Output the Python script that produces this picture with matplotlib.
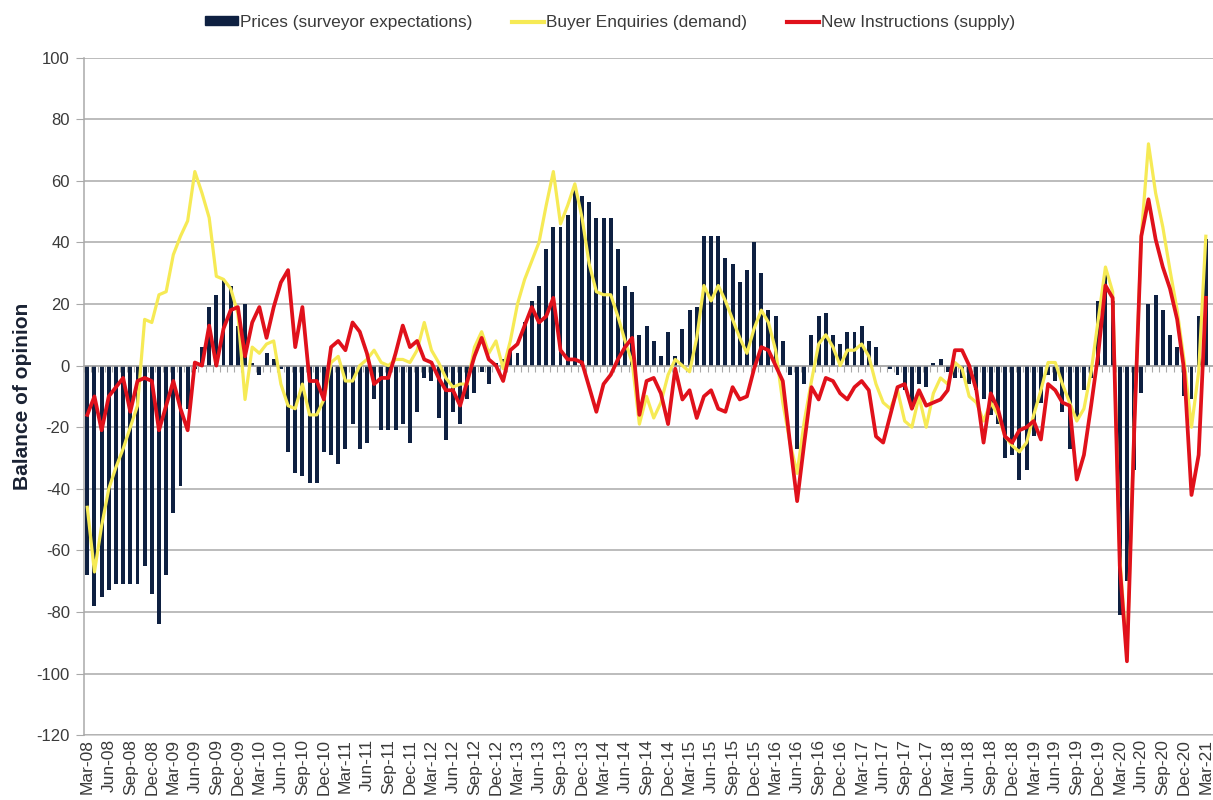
import numpy as np
import matplotlib
matplotlib.use("Agg")
import matplotlib.pyplot as plt
from matplotlib.patches import Patch
from matplotlib.lines import Line2D

plt.rcParams['font.family'] = ['Liberation Sans', 'DejaVu Sans']
plt.rcParams['axes.unicode_minus'] = False

# ---- data (monthly, Mar-08 .. Mar-21) ----
start_year, start_month = 2008, 3
n_months = 157
month_names = ["Jan", "Feb", "Mar", "Apr", "May", "Jun", "Jul", "Aug", "Sep", "Oct", "Nov", "Dec"]

prices = [
    -68, -78, -75, -73, -71, -71, -71, -71, -65, -74, -84, -68, -48, -39, -14, -1,
    6, 19, 23, 28, 26, 13, 20, 1, -3, 4, 2, -1, -28, -35, -36, -38,
    -38, -28, -29, -32, -27, -19, -27, -25, -11, -21, -21, -21, -19, -25, -15, -4,
    -5, -17, -24, -15, -19, -11, -9, -2, -6, 1, 2, 5, 4, 14, 21, 26,
    38, 45, 45, 49, 57, 55, 53, 48, 48, 48, 38, 26, 24, 10, 13, 8,
    3, 11, 3, 12, 18, 19, 42, 42, 42, 35, 33, 27, 31, 40, 30, 18,
    16, 8, -3, -27, -6, 10, 16, 17, 10, 7, 11, 11, 13, 8, 6, 0,
    -1, -3, -8, -14, -6, -7, 1, 2, -2, -4, -4, -6, -8, -11, -16, -19,
    -30, -29, -37, -34, -23, -12, -3, -5, -15, -27, -17, -8, -4, 21, 30, 21,
    -81, -70, -34, -9, 20, 23, 18, 10, 6, -10, -11, 16, 41,
]

buyer_enquiries = [
    -46, -67, -52, -40, -33, -27, -20, -13, 15, 14, 23, 24, 36, 42, 47, 63,
    56, 48, 29, 28, 25, 17, -11, 6, 4, 7, 8, -6, -13, -14, -6, -16,
    -16, -11, 1, 3, -5, -5, 0, 2, 5, 1, 0, 2, 2, 1, 5, 14,
    5, 1, -4, -7, -6, -6, 6, 11, 4, 8, -1, 8, 20, 28, 34, 40,
    52, 63, 46, 52, 59, 48, 33, 24, 23, 23, 16, 8, 1, -19, -10, -17,
    -12, -3, 2, 0, -2, 9, 26, 21, 26, 21, 15, 9, 4, 12, 18, 14,
    5, -12, -25, -35, -18, -5, 7, 10, 6, 0, 5, 5, 7, 3, -6, -12,
    -14, -8, -18, -20, -10, -20, -9, -4, -6, 1, -1, -10, -12, -18, -12, -16,
    -23, -26, -28, -25, -16, -8, 1, 1, -6, -12, -18, -14, -2, 15, 32, 24,
    -62, -94, -20, 42, 72, 56, 45, 31, 18, 1, -20, -2, 42,
]

new_instructions = [
    -16, -10, -21, -10, -7, -4, -15, -5, -4, -5, -21, -13, -5, -14, -21, 1,
    0, 13, 0, 12, 18, 19, 3, 14, 19, 9, 19, 27, 31, 6, 19, -5,
    -5, -11, 6, 8, 5, 14, 11, 4, -6, -4, -4, 4, 13, 6, 8, 2,
    1, -4, -8, -8, -13, -5, 3, 9, 2, 0, -5, 5, 7, 13, 19, 14,
    16, 22, 5, 2, 2, 1, -7, -15, -6, -3, 2, 6, 9, -16, -5, -4,
    -9, -19, -1, -11, -8, -17, -10, -8, -14, -15, -7, -11, -10, -1, 6, 5,
    0, -5, -25, -44, -25, -7, -11, -4, -5, -9, -11, -7, -5, -8, -23, -25,
    -16, -7, -6, -14, -8, -13, -12, -11, -8, 5, 5, 0, -8, -25, -9, -14,
    -23, -25, -21, -20, -18, -24, -6, -8, -12, -13, -37, -29, -13, 4, 26, 22,
    -65, -96, -22, 42, 54, 41, 32, 25, 15, -2, -42, -29, 22,
]

series_labels = ["Prices (surveyor expectations)", "Buyer Enquiries (demand)", "New Instructions (supply)"]
y_ticks = list(range(-120, 101, 20))

# ---- derived labels ----
months = []
for k in range(n_months):
    m = (start_month - 1 + k) % 12
    y = start_year + (start_month - 1 + k) // 12
    months.append(f"{month_names[m]}-{y % 100:02d}")

x = np.arange(n_months)
label_idx = x[::3]
label_txt = [months[k] for k in label_idx]

# ---- styles ----
navy = "#0e2041"
yellow = "#f6ea55"
red = "#e0111b"
grid_c = "#a9a9a9"
text_c = "#3a3a3a"

fig = plt.figure(figsize=(12.13, 8.0), dpi=100)
ax = fig.add_axes([0.069, 0.081, 0.931, 0.847])

ax.set_ylim(-120, 100)
ax.set_xlim(-0.5, n_months - 0.5 + 0.5)
ax.set_yticks(y_ticks)
ax.yaxis.grid(True, color=grid_c, linewidth=1.1)
ax.set_axisbelow(True)

ax.bar(x, prices, width=0.55, color=navy, zorder=2)
ax.plot(x, buyer_enquiries, color=yellow, linewidth=2.3, zorder=3, solid_joinstyle='round')
ax.plot(x, new_instructions, color=red, linewidth=2.7, zorder=4, solid_joinstyle='round')

# category axis crossing at zero with monthly tick marks
for s in ["top", "right"]:
    ax.spines[s].set_visible(False)
ax.spines["bottom"].set_position(("data", 0))
ax.spines["bottom"].set_color(grid_c)
ax.spines["bottom"].set_linewidth(1.1)
ax.spines["left"].set_color(grid_c)
ax.spines["left"].set_linewidth(1.1)
ax.set_xticks(np.arange(-0.5, n_months, 1.0))
ax.tick_params(axis="x", length=4, color=grid_c, labelbottom=False, direction="out")
ax.tick_params(axis="y", length=6, color=grid_c, labelsize=12, labelcolor=text_c, pad=4)

sec = ax.secondary_xaxis("bottom")
sec.set_xticks(label_idx)
sec.set_xticklabels(label_txt, rotation=90, fontsize=12.5, color=text_c)
sec.tick_params(axis="x", length=0, pad=3)
sec.spines["bottom"].set_color("#c8c8c8")
sec.spines["bottom"].set_linewidth(1.1)

ax.set_ylabel("Balance of opinion", fontsize=15, fontweight="bold", color="#1a2233", labelpad=3)

handles = [
    Patch(facecolor=navy, edgecolor=navy),
    Line2D([0], [0], color=yellow, linewidth=3),
    Line2D([0], [0], color=red, linewidth=3),
]
fig.legend(handles, series_labels, loc="center", bbox_to_anchor=(0.503, 0.972), ncol=3,
           frameon=False, fontsize=12.4, handlelength=1.9, handletextpad=0.1, columnspacing=2.3,
           labelcolor=text_c, handleheight=0.45)

fig.savefig("out.png", dpi=100)
